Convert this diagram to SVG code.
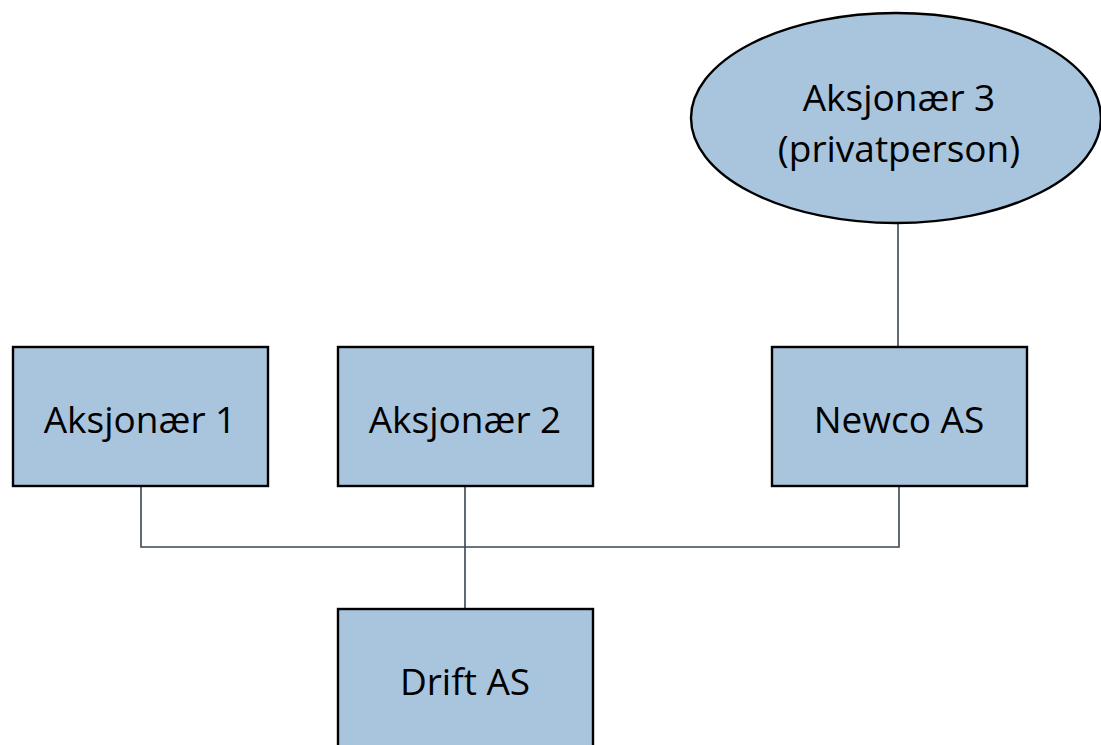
<svg xmlns="http://www.w3.org/2000/svg" width="1101" height="745" viewBox="0 0 1101 745">
<style>
.n{fill:#A9C4DD;stroke:#000;stroke-width:2.4}
.t{font-family:"Open Sans","Noto Sans",sans-serif;font-size:37px;fill:#000;text-anchor:middle}
.c{fill:none;stroke:#3A4550;stroke-width:1.6}
</style>
<rect width="1101" height="745" fill="#fff"/>
<g id="connectors">
<path class="c" d="M898 224V347"/>
<path class="c" d="M141 486V547H899V486"/>
<path class="c" d="M465 486V609"/>
</g>
<g id="aksjonaer3"><ellipse class="n" cx="896" cy="118" rx="205" ry="105"/><text class="t" x="899" y="111">Aksjonær 3</text><text class="t" x="899" y="162">(privatperson)</text></g>
<g id="aksjonaer1"><rect class="n" x="13" y="347" width="255" height="139"/><text class="t" x="140" y="433">Aksjonær 1</text></g>
<g id="aksjonaer2"><rect class="n" x="338" y="347" width="255" height="139"/><text class="t" x="465" y="433">Aksjonær 2</text></g>
<g id="newco"><rect class="n" x="772" y="347" width="255" height="139"/><text class="t" x="899" y="433">Newco AS</text></g>
<g id="drift"><rect class="n" x="338" y="609" width="255" height="150"/><text class="t" x="465" y="695">Drift AS</text></g>
</svg>
